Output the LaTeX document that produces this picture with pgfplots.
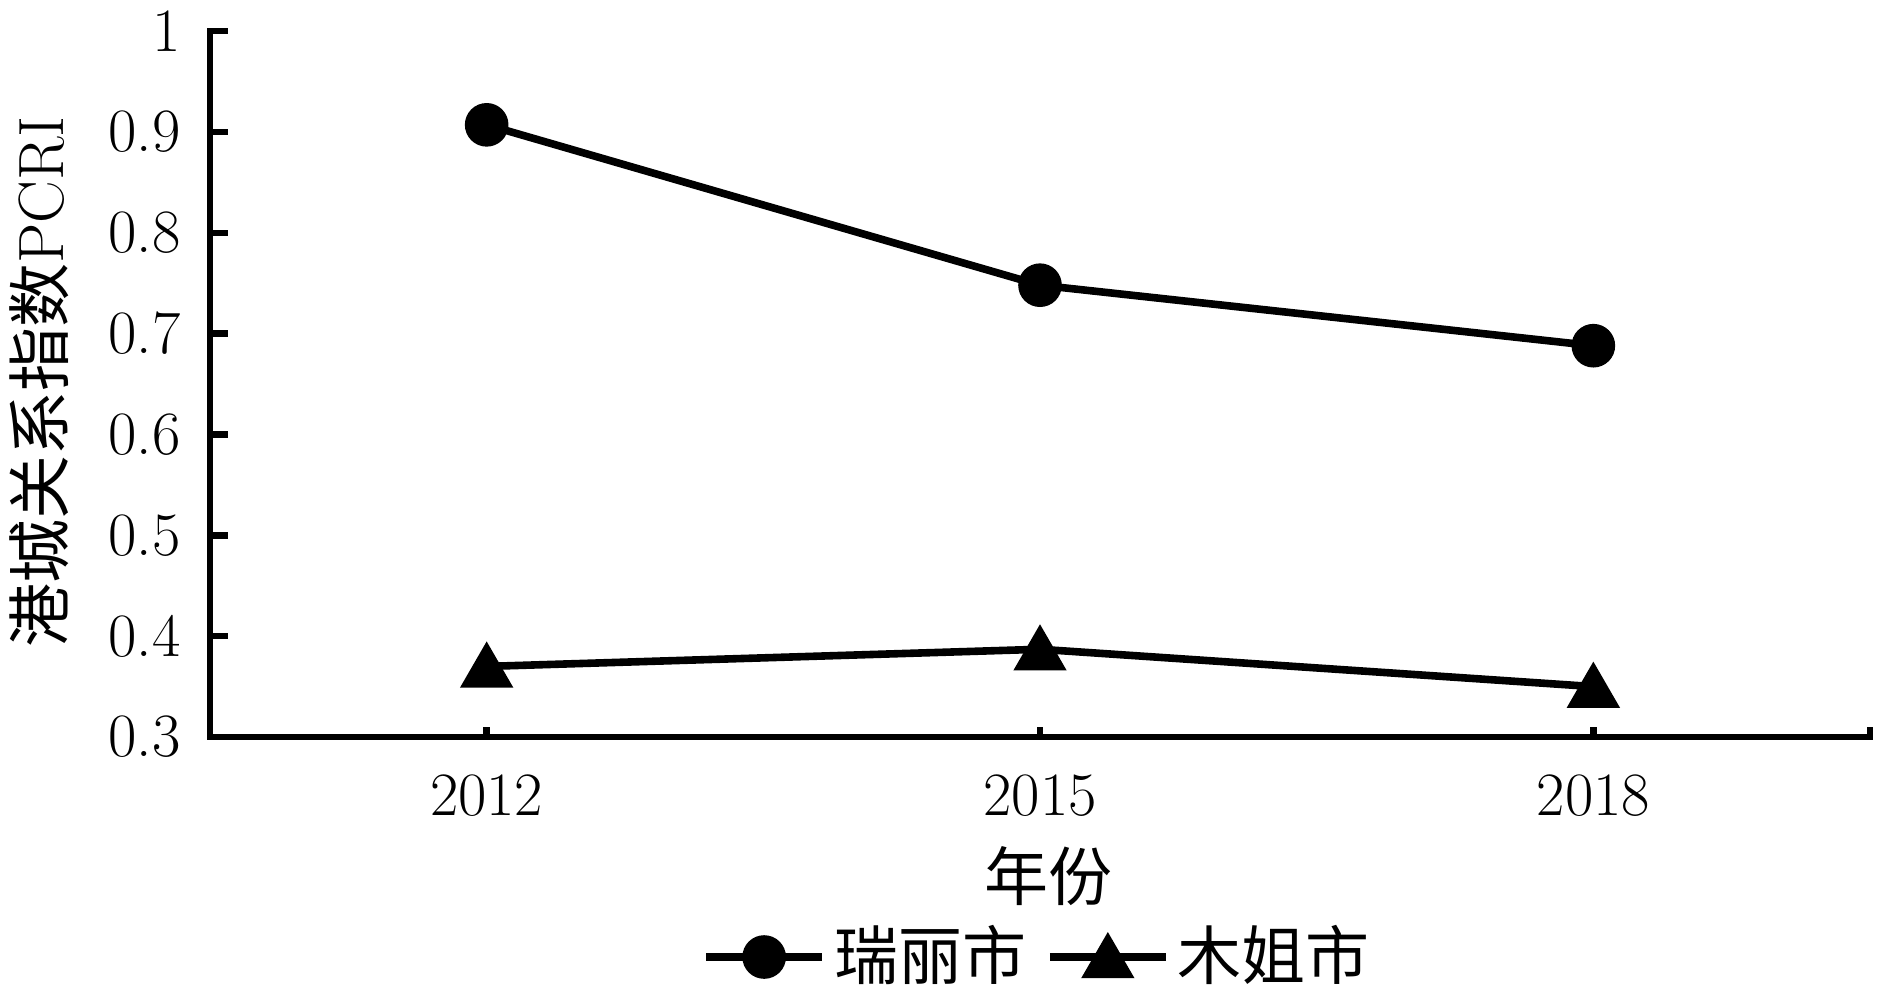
\documentclass[border=0pt]{standalone}
\usepackage{fontspec}
\usepackage{pgfplots}
\pgfplotsset{compat=1.18}
\newfontfamily\cjk{Noto Sans CJK SC}
\begin{document}
\fontsize{15.4}{18}\selectfont
\begin{tikzpicture}
\useasboundingbox (-52.5pt,-63.25pt) rectangle (417.5pt,184.25pt);
\begin{axis}[
  at={(0,0)}, anchor=south west,
  scale only axis, width=415pt, height=176.5pt,
  xmin=-0.5, xmax=2.5, ymin=0.3, ymax=1,
  axis lines*=left,
  axis line style={line width=1.6pt, line cap=rect},
  tick align=inside,
  major tick length=4.5pt,
  tick style={line width=1.6pt, black},
  xtick style={/pgfplots/major tick length=2.5pt},
  xtick={-0.5,0,1,2,2.5},
  xticklabels={,2012,2015,2018,},
  ytick={0.3,0.4,0.5,0.6,0.7,0.8,0.9,1},
  yticklabels={0.3,0.4,0.5,0.6,0.7,0.8,0.9,1},
  /pgf/number format/assume math mode=true,
  ticklabel style={font=\fontsize{15.4}{18}\selectfont},
  yticklabel style={xshift=-2pt},
  xticklabel style={yshift=-4pt},
  xlabel={\cjk 年份},
  xlabel style={at={(axis description cs:0.505,-0.197)}, anchor=center, font=\fontsize{16}{19}\selectfont},
  ylabel={{\cjk 港城关系指数}PCRI},
  ylabel style={at={(axis description cs:-0.103,0.503)}, anchor=center, font=\fontsize{16}{19}\selectfont},
  legend style={at={(axis description cs:0.5,-0.3116)}, anchor=center, draw=none, fill=none,
    font=\fontsize{16}{19}\selectfont\cjk, legend columns=2,
    /tikz/every even column/.append style={column sep=3pt},
    inner sep=0pt},
  legend cell align=left,
  legend image code/.code={\draw[mark repeat=2,mark phase=2] plot coordinates {(0cm,0cm)(0.51cm,0cm)(1.02cm,0cm)};},
]
\addplot[black, line width=1.9pt, mark=*, mark size=4.5pt, mark options={solid}] coordinates {(0,0.907) (1,0.748) (2,0.688)};
\addlegendentry{瑞丽市}
\addplot[black, line width=1.9pt, mark=triangle*, mark size=5.8pt, mark options={solid, yshift=-1.45pt}] coordinates {(0,0.37) (1,0.387) (2,0.35)};
\addlegendentry{木姐市}
\end{axis}
\end{tikzpicture}
\end{document}
